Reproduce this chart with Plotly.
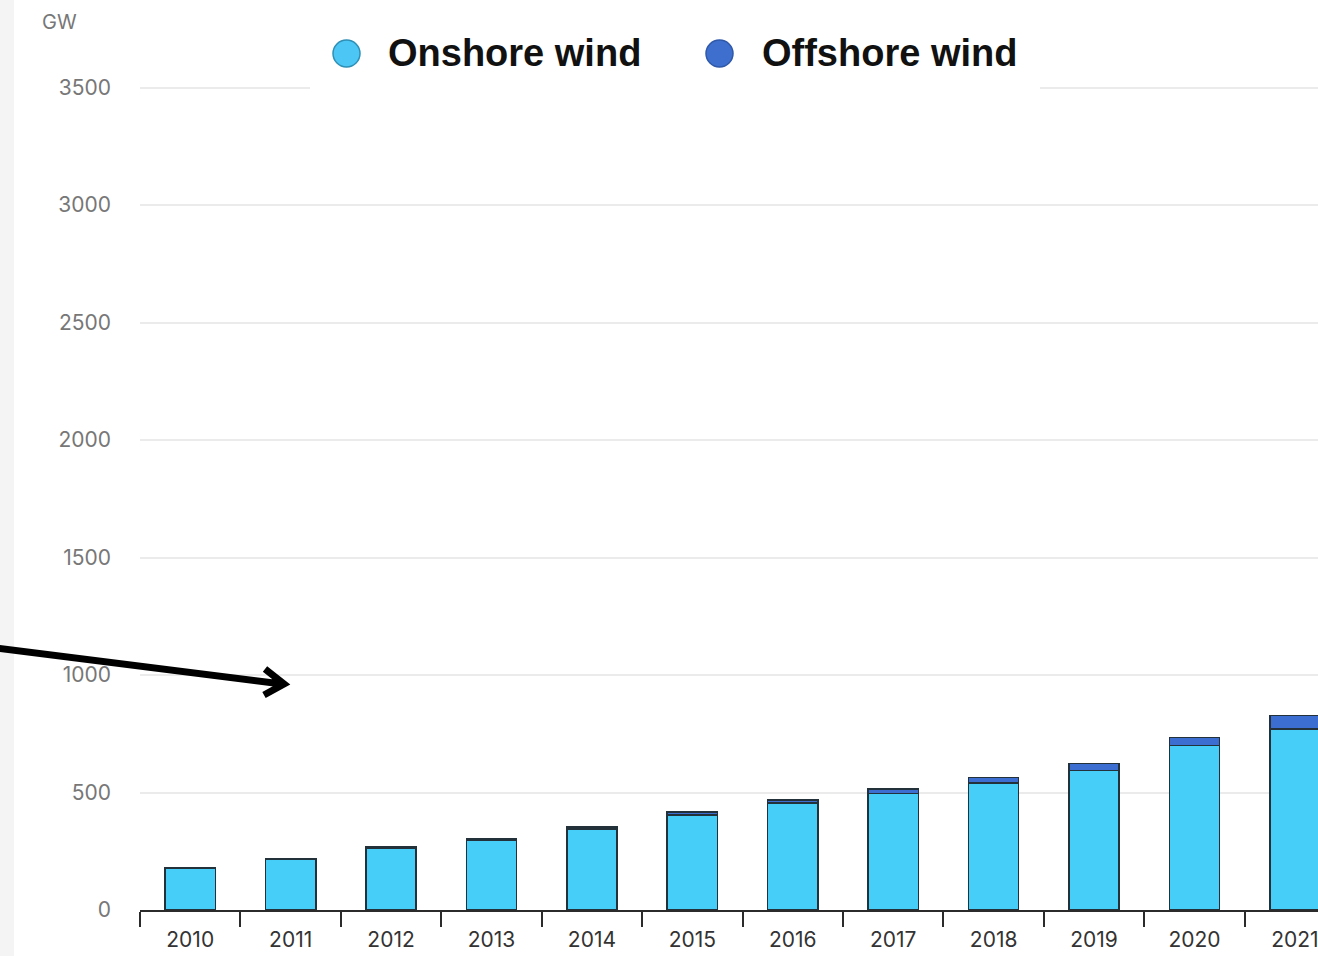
import plotly.graph_objects as go

# Installed wind capacity, GW
years = ["2010", "2011", "2012", "2013", "2014", "2015",
         "2016", "2017", "2018", "2019", "2020", "2021"]
onshore = [178, 216, 263, 297, 345, 405, 455, 495, 540, 594, 699, 771]
offshore = [3, 4, 5, 7, 8, 12, 14, 20, 24, 29, 35, 56]
y_ticks = [0, 500, 1000, 1500, 2000, 2500, 3000, 3500]

W, H = 1318, 956
ML, MR, MT, MB = 140, 0, 84, 46
PW, PH = W - ML - MR, H - MT - MB
Y_TOP = 3515

ONSHORE_COLOR = "#47CEF8"
OFFSHORE_COLOR = "#3B6ED0"
EDGE = "#22313A"


def px_x(px):
    return (px - ML) / PW


def px_y(py):
    return (H - MB - py) / PH


fig = go.Figure()
fig.add_trace(go.Bar(
    x=years, y=onshore, name="Onshore wind",
    marker=dict(color=ONSHORE_COLOR, line=dict(color=EDGE, width=1.5)),
    showlegend=False,
))
fig.add_trace(go.Bar(
    x=years, y=offshore, name="Offshore wind",
    marker=dict(color=OFFSHORE_COLOR, line=dict(color=EDGE, width=1.5)),
    showlegend=False,
))

shapes = [
    # grey strip along the left edge
    dict(type="rect", xref="paper", yref="paper",
         x0=px_x(0), x1=px_x(14), y0=px_y(H), y1=px_y(0),
         fillcolor="#F4F4F4", line=dict(width=0), layer="below"),
    # white backing for the legend
    dict(type="rect", xref="paper", yref="paper",
         x0=px_x(310), x1=px_x(1040), y0=px_y(91), y1=px_y(18),
         fillcolor="white", line=dict(width=0), layer="above"),
    # legend swatches
    dict(type="circle", xref="paper", yref="paper",
         x0=px_x(333), x1=px_x(360), y0=px_y(67), y1=px_y(40),
         fillcolor="#4CC6F4", line=dict(color="#2E8FB5", width=1.5),
         layer="above"),
    dict(type="circle", xref="paper", yref="paper",
         x0=px_x(706), x1=px_x(733), y0=px_y(67), y1=px_y(40),
         fillcolor="#3E6FCF", line=dict(color="#2F58A8", width=1.5),
         layer="above"),
    # pointer arrow
    dict(type="path", xref="paper", yref="paper",
         path=(f"M {px_x(-4)},{px_y(648)} L {px_x(282)},{px_y(684)} "
               f"M {px_x(265)},{px_y(669)} L {px_x(284)},{px_y(684)} "
               f"L {px_x(264)},{px_y(695)}"),
         line=dict(color="black", width=7), layer="above"),
]

legend_font = dict(family="Liberation Sans, Arial, sans-serif",
                   size=38, color="#111111", weight="bold")
annotations = [
    dict(text="GW", xref="paper", yref="paper", x=px_x(40), y=px_y(22),
         xanchor="left", yanchor="middle", showarrow=False,
         font=dict(family="Inter, sans-serif", size=20, color="#777777")),
    dict(text="Onshore wind", xref="paper", yref="paper",
         x=px_x(386), y=px_y(53), xanchor="left", yanchor="middle",
         showarrow=False, font=legend_font),
    dict(text="Offshore wind", xref="paper", yref="paper",
         x=px_x(760), y=px_y(53), xanchor="left", yanchor="middle",
         showarrow=False, font=legend_font),
]

fig.update_layout(
    width=W, height=H,
    margin=dict(l=ML, r=MR, t=MT, b=MB, pad=0),
    barmode="stack", bargap=0.5,
    plot_bgcolor="white", paper_bgcolor="white",
    shapes=shapes, annotations=annotations,
    showlegend=False,
)
fig.update_xaxes(
    type="category", range=[-0.5, 11.23],
    showline=True, linecolor="#2B2B2B", linewidth=2,
    ticks="outside", tickson="boundaries", ticklen=15, tickwidth=2,
    tickcolor="#2B2B2B", showgrid=False,
    ticklabelstandoff=10,
    tickfont=dict(family="Inter, sans-serif", size=21, color="#333333"),
)
fig.update_yaxes(
    range=[0, Y_TOP], tickvals=y_ticks, ticktext=[str(v) for v in y_ticks],
    showgrid=True, gridcolor="#EBEBEB", gridwidth=1.5,
    zeroline=False, showline=False, ticks="",
    ticklabelstandoff=28,
    tickfont=dict(family="Inter, sans-serif", size=21, color="#777777"),
)

fig.write_html("out.html")
